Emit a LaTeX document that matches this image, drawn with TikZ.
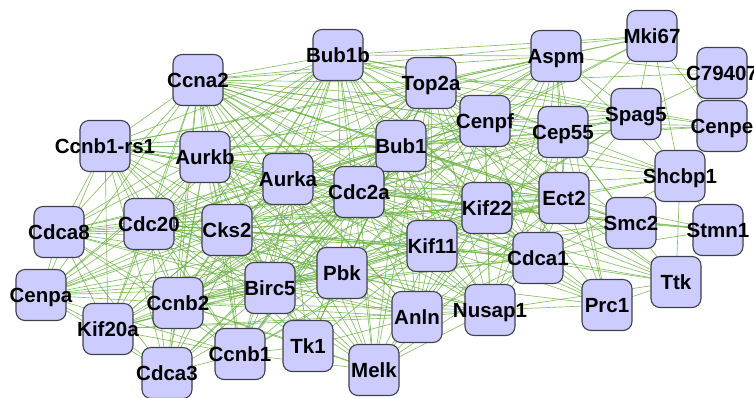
\documentclass[tikz,border=0pt]{standalone}
\usepackage{fontspec}
\setmainfont{Liberation Sans}
\definecolor{nodefill}{RGB}{204,204,255}
\definecolor{nodeline}{RGB}{64,64,76}
\definecolor{edgegreen}{RGB}{104,176,64}
\pgfdeclarelayer{bg}
\pgfsetlayers{bg,main}
\newcommand\genelabel[1]{\makebox[0pt][c]{#1}}
\tikzset{
  gene/.style={rectangle, rounded corners=9bp, minimum width=50bp, minimum height=51bp,
    inner sep=0pt, fill=nodefill, draw=nodeline, line width=1.1bp,
    font=\fontsize{20.5bp}{24bp}\selectfont\bfseries, text height=14.6bp, text depth=0pt},
  link/.style={draw=edgegreen, line width=0.65bp, opacity=0.8}
}
\begin{document}
\begin{tikzpicture}[x=1bp,y=-1bp]
\useasboundingbox (0,0) rectangle (754,397);
\node[gene] (Ccna2) at (198,80) {\genelabel{Ccna2}};
\node[gene] (Bub1b) at (338,55) {\genelabel{Bub1b}};
\node[gene] (Top2a) at (431,83) {\genelabel{Top2a}};
\node[gene] (Aspm) at (556,56) {\genelabel{Aspm}};
\node[gene] (Mki67) at (652,36) {\genelabel{Mki67}};
\node[gene] (C79407) at (722,73) {\genelabel{C79407}};
\node[gene] (Cenpf) at (485,121) {\genelabel{Cenpf}};
\node[gene] (Spag5) at (636,114) {\genelabel{Spag5}};
\node[gene] (Cenpe) at (722,126) {\genelabel{Cenpe}};
\node[gene] (Cep55) at (563,132) {\genelabel{Cep55}};
\node[gene] (Ccnb1rs1) at (105,146) {\genelabel{Ccnb1-rs1}};
\node[gene] (Aurkb) at (205,157) {\genelabel{Aurkb}};
\node[gene] (Bub1) at (401,146) {\genelabel{Bub1}};
\node[gene] (Aurka) at (288,179) {\genelabel{Aurka}};
\node[gene] (Cdc2a) at (359,192) {\genelabel{Cdc2a}};
\node[gene] (Kif22) at (487,208) {\genelabel{Kif22}};
\node[gene] (Ect2) at (564,198) {\genelabel{Ect2}};
\node[gene] (Shcbp1) at (680,176) {\genelabel{Shcbp1}};
\node[gene] (Smc2) at (631,223) {\genelabel{Smc2}};
\node[gene] (Stmn1) at (718,230) {\genelabel{Stmn1}};
\node[gene] (Cdca8) at (59,232) {\genelabel{Cdca8}};
\node[gene] (Cdc20) at (149,224) {\genelabel{Cdc20}};
\node[gene] (Cks2) at (227,230) {\genelabel{Cks2}};
\node[gene] (Kif11) at (432,246) {\genelabel{Kif11}};
\node[gene] (Cdca1) at (538,258) {\genelabel{Cdca1}};
\node[gene] (Cenpa) at (41,295) {\genelabel{Cenpa}};
\node[gene] (Birc5) at (270,288) {\genelabel{Birc5}};
\node[gene] (Pbk) at (342,273) {\genelabel{Pbk}};
\node[gene] (Ttk) at (676,282) {\genelabel{Ttk}};
\node[gene] (Kif20a) at (108,329) {\genelabel{Kif20a}};
\node[gene] (Ccnb2) at (178,303) {\genelabel{Ccnb2}};
\node[gene] (Prc1) at (607,305) {\genelabel{Prc1}};
\node[gene] (Anln) at (417,317) {\genelabel{Anln}};
\node[gene] (Nusap1) at (490,310) {\genelabel{Nusap1}};
\node[gene] (Ccnb1) at (240,354) {\genelabel{Ccnb1}};
\node[gene] (Tk1) at (308,346) {\genelabel{Tk1}};
\node[gene] (Melk) at (374,370) {\genelabel{Melk}};
\node[gene] (Cdca3) at (167,373) {\genelabel{Cdca3}};
\begin{pgfonlayer}{bg}
\fill[white] (0,0) rectangle (754,397);
\foreach \a/\bs in {
 Ccna2/{Bub1b,Top2a,Aspm,Cenpf,Cep55,Bub1,Aurkb,Aurka,Cdc2a,Kif22,Ect2,Cdca8,Cdc20,Cks2,Kif11,Cdca1,Birc5,Pbk,Ccnb2,Kif20a,Nusap1,Anln,Cenpa,Ccnb1,Tk1,Melk,Cdca3,Ccnb1rs1,Spag5,Mki67,Shcbp1,Smc2,Prc1},
 Bub1b/{Top2a,Aspm,Cenpf,Cep55,Bub1,Aurkb,Aurka,Cdc2a,Kif22,Ect2,Cdca8,Cdc20,Cks2,Kif11,Cdca1,Birc5,Pbk,Ccnb2,Kif20a,Nusap1,Anln,Cenpa,Ccnb1,Melk,Cdca3,Ccnb1rs1,Spag5,Mki67,Cenpe,Ttk},
 Top2a/{Aspm,Cenpf,Cep55,Bub1,Aurkb,Aurka,Cdc2a,Kif22,Ect2,Cdc20,Cks2,Kif11,Cdca1,Birc5,Pbk,Ccnb2,Nusap1,Anln,Ccnb1,Melk,Ccnb1rs1,Mki67,Spag5,Smc2,Prc1,Tk1,C79407},
 Aspm/{Cenpf,Cep55,Bub1,Aurkb,Cdc2a,Kif22,Ect2,Kif11,Cdca1,Pbk,Ccnb2,Nusap1,Mki67,C79407,Spag5,Shcbp1,Cdc20,Ccnb1rs1,Prc1},
 Mki67/{Spag5,Cenpe,Shcbp1,Cenpf,Cep55,Cdc2a},
 C79407/{Spag5},
 Cenpe/{Spag5,Shcbp1,Cep55,Cenpf,Bub1},
 Spag5/{Cenpf,Cep55,Bub1,Kif22,Ect2,Shcbp1,Kif11,Cdc2a},
 Cenpf/{Cep55,Bub1,Aurkb,Aurka,Cdc2a,Kif22,Ect2,Cdc20,Kif11,Cdca1,Birc5,Pbk,Ccnb2,Nusap1,Anln,Ccnb1rs1,Shcbp1,Cks2},
 Cep55/{Bub1,Aurkb,Cdc2a,Kif22,Ect2,Kif11,Cdca1,Pbk,Shcbp1,Nusap1,Smc2,Ccnb2,Cdc20,Prc1,Ttk,Anln},
 Shcbp1/{Ttk,Kif22,Ect2,Bub1,Cdc2a,Stmn1,Cdca1},
 Smc2/{Kif22,Ect2,Cdca1,Kif11,Bub1,Cdc2a,Stmn1,Ccnb2},
 Stmn1/{Kif22,Ect2,Cdca1,Cdc2a},
 Ttk/{Cdca1,Kif22,Kif11,Ect2,Nusap1,Cdc2a,Bub1,Prc1},
 Prc1/{Cdca1,Nusap1,Kif22,Kif11,Ect2,Cdc2a,Pbk},
 Ccnb1rs1/{Aurkb,Bub1,Aurka,Cdc2a,Kif22,Cdca8,Cdc20,Cks2,Kif11,Birc5,Pbk,Ccnb2,Kif20a,Cenpa,Ccnb1,Cdca3,Ect2,Tk1},
 Aurkb/{Bub1,Aurka,Cdc2a,Kif22,Ect2,Cdca8,Cdc20,Cks2,Kif11,Cdca1,Birc5,Pbk,Ccnb2,Kif20a,Nusap1,Anln,Cenpa,Ccnb1,Tk1,Melk,Cdca3},
 Bub1/{Aurka,Cdc2a,Kif22,Ect2,Cdca8,Cdc20,Cks2,Kif11,Cdca1,Birc5,Pbk,Ccnb2,Kif20a,Nusap1,Anln,Cenpa,Ccnb1,Melk,Cdca3,Tk1},
 Aurka/{Cdc2a,Kif22,Ect2,Cdca8,Cdc20,Cks2,Kif11,Cdca1,Birc5,Pbk,Ccnb2,Kif20a,Nusap1,Anln,Cenpa,Ccnb1,Tk1,Melk},
 Cdc2a/{Kif22,Ect2,Cdca8,Cdc20,Cks2,Kif11,Cdca1,Birc5,Pbk,Ccnb2,Kif20a,Nusap1,Anln,Cenpa,Ccnb1,Tk1,Melk,Cdca3},
 Kif22/{Ect2,Cdca8,Cdc20,Cks2,Kif11,Cdca1,Birc5,Pbk,Ccnb2,Kif20a,Nusap1,Anln,Cenpa,Ccnb1,Melk},
 Ect2/{Cdc20,Kif11,Cdca1,Birc5,Pbk,Ccnb2,Nusap1,Anln,Cks2,Melk},
 Cdca8/{Cdc20,Cks2,Kif11,Birc5,Pbk,Ccnb2,Kif20a,Cenpa,Ccnb1,Cdca3,Anln},
 Cdc20/{Cks2,Kif11,Cdca1,Birc5,Pbk,Ccnb2,Kif20a,Nusap1,Anln,Cenpa,Ccnb1,Tk1,Melk,Cdca3},
 Cks2/{Kif11,Cdca1,Birc5,Pbk,Ccnb2,Kif20a,Nusap1,Anln,Cenpa,Ccnb1,Melk,Cdca3},
 Kif11/{Cdca1,Birc5,Pbk,Ccnb2,Kif20a,Nusap1,Anln,Cenpa,Ccnb1,Tk1,Melk},
 Cdca1/{Birc5,Pbk,Ccnb2,Nusap1,Anln,Melk},
 Birc5/{Pbk,Ccnb2,Kif20a,Nusap1,Anln,Cenpa,Ccnb1,Tk1,Melk,Cdca3},
 Pbk/{Ccnb2,Kif20a,Nusap1,Anln,Cenpa,Ccnb1,Tk1,Melk,Cdca3},
 Ccnb2/{Kif20a,Nusap1,Anln,Cenpa,Ccnb1,Tk1,Melk,Cdca3},
 Kif20a/{Cenpa,Cdca3,Ccnb1,Nusap1,Anln},
 Nusap1/{Anln,Melk},
 Anln/{Melk,Tk1},
 Cenpa/{Cdca3,Ccnb1},
 Ccnb1/{Tk1,Cdca3,Melk},
 Tk1/{Melk}}
 {\foreach \b in \bs {\draw[link] (\a.center) -- (\b.center);}}
\end{pgfonlayer}
\end{tikzpicture}
\end{document}
